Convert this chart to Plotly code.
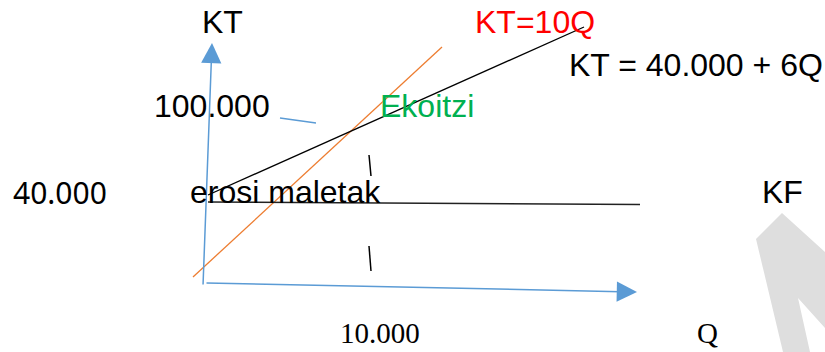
import plotly.graph_objects as go

# diagram drawn in picture coordinates (x right, y down)
W, H = 825, 352

# cost curves
kt10_x = [193, 442]
kt10_y = [277, 47]
kt_total_x = [208, 584]
kt_total_y = [195, 27]
kf_x = [208, 640]
kf_y = [202, 204.5]
q_dash_x = [[369, 371], [369, 371]]
q_dash_y = [[155, 176], [246, 271]]
tick_x = [280, 316]
tick_y = [118, 123]

# axes (start, tip)
axis_kt = [(203, 286), (212, 43)]
axis_q = [(205, 283), (637, 292)]

# labels: (text, x, y, color, font, size)
labels = [
    ("KT", 222, 22, "black", "Liberation Sans", 32),
    ("KT=10Q", 535, 22, "#ff0000", "Liberation Sans", 32),
    ("KT = 40.000 + 6Q", 696, 65, "black", "Liberation Sans", 32),
    ("100.000", 212, 106, "black", "Liberation Sans", 32),
    ("Ekoitzi", 427, 106, "#00b050", "Liberation Sans", 32),
    ("40.000", 60, 192, "black", "Noto Sans", 30),
    ("erosi maletak", 285, 192, "black", "Liberation Sans", 32),
    ("KF", 782, 192, "black", "Liberation Sans", 32),
    ("10.000", 380, 333, "black", "Liberation Serif", 29),
    ("Q", 707, 333, "black", "Liberation Serif", 29),
]

# watermark corner
mark_x = [782, 756, 783, 810, 798, 825, 825, 782]
mark_y = [213, 239, 352, 352, 298, 328, 252, 213]

fig = go.Figure()

fig.add_trace(go.Scatter(x=mark_x, y=mark_y, mode="lines", fill="toself",
                         fillcolor="#dedede", line=dict(width=0), hoverinfo="skip"))

fig.add_trace(go.Scatter(x=kt10_x, y=kt10_y, mode="lines",
                         line=dict(color="#ed7d31", width=1.3)))
fig.add_trace(go.Scatter(x=kt_total_x, y=kt_total_y, mode="lines",
                         line=dict(color="black", width=1.3)))
fig.add_trace(go.Scatter(x=kf_x, y=kf_y, mode="lines",
                         line=dict(color="#222222", width=1.5)))
for dx, dy in zip(q_dash_x, q_dash_y):
    fig.add_trace(go.Scatter(x=dx, y=dy, mode="lines",
                             line=dict(color="black", width=1.5)))
fig.add_trace(go.Scatter(x=tick_x, y=tick_y, mode="lines",
                         line=dict(color="#5b9bd5", width=1.3)))

for (x0, y0), (x1, y1) in [axis_kt, axis_q]:
    fig.add_annotation(x=x1, y=y1, ax=x0, ay=y0, xref="x", yref="y",
                       axref="x", ayref="y", text="", showarrow=True,
                       arrowhead=2, arrowsize=2.7, arrowwidth=1.5,
                       arrowcolor="#5b9bd5")

for text, x, y, color, font, size in labels:
    fig.add_annotation(x=x, y=y, xref="x", yref="y", text=text,
                       showarrow=False, xanchor="center", yanchor="middle",
                       font=dict(family=font, size=size, color=color))

fig.update_layout(
    width=W, height=H,
    margin=dict(l=0, r=0, t=0, b=0),
    paper_bgcolor="white", plot_bgcolor="white", showlegend=False,
    xaxis=dict(range=[0, W], visible=False, fixedrange=True),
    yaxis=dict(range=[H, 0], visible=False, fixedrange=True),
)

# drop the page margin so the figure fills the window
fig.write_html("out.html", config={"displayModeBar": False},
               post_script="document.body.style.margin='0';"
                           "document.body.style.overflow='hidden';")
